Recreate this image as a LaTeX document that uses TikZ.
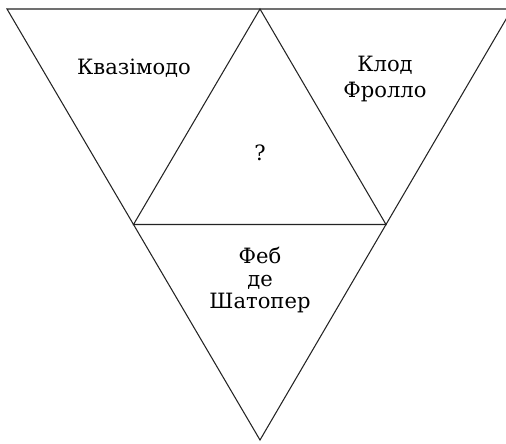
\documentclass[tikz,border=0pt]{standalone}
\usepackage{fontspec}
\setmainfont{DejaVu Serif}
\usepackage{tikz}
\usetikzlibrary{positioning,calc}
\definecolor{edge}{RGB}{35,35,35}
\tikzset{
  side/.style={draw=edge, line width=0.9pt, line join=miter},
  hero/.style={align=center, font=\fontsize{18}{19}\selectfont, inner sep=1pt}
}

\begin{document}
\begin{tikzpicture}[x=0.03cm, y=-0.03cm]
\useasboundingbox (0,0) rectangle (506,443);
% corners of the big triangle
\coordinate (tl) at (7,9);
\coordinate (tm) at (260,9);
\coordinate (tr) at (512,9);
\coordinate (bt) at (260,440);
\coordinate (ml) at ($(tl)!0.5!(bt)$);
\coordinate (mr) at ($(tr)!0.5!(bt)$);
% outline and inner triangle
\draw[side] (tl) -- (tr) -- (bt) -- cycle;
\draw[side] (ml) -- (tm) -- (mr) -- cycle;
% names
\node[hero] (kvaz) at (134,68) {Квазімодо};
\node[hero, font=\fontsize{18}{22}\selectfont] (klod) at (385,79) {Клод\\Фролло};
\node[hero] (quest) at (260,153) {?};
\node[hero] (feb) at (260,280) {Феб\\де\\Шатопер};
\end{tikzpicture}
\end{document}
